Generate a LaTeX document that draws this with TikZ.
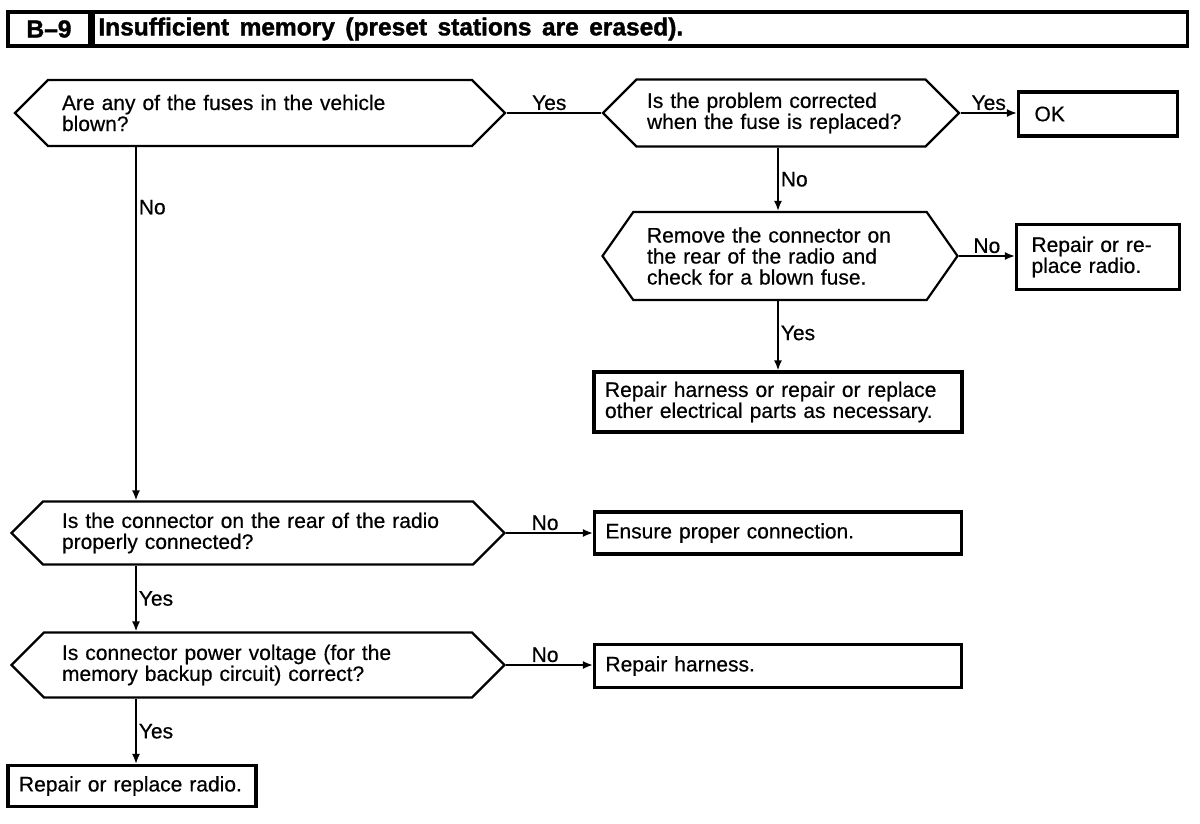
\documentclass[tikz,border=0pt]{standalone}
\usepackage{fontspec}
\setmainfont{Liberation Sans}[FakeBold=0.5]
\newfontfamily\headfont{Liberation Sans Bold}[FakeBold=1.5]
\usetikzlibrary{shapes.symbols,arrows.meta}
\tikzset{%
    >={Latex[length=10pt,width=8pt]}, % small filled heads
    every node/.style={font=\fontsize{21}{21}\selectfont},
    question/.style={signal, signal to=west and east, signal pointer angle=90,
        draw, line width=2.2pt, inner sep=0pt, align=left},
    answer/.style={draw, line width=3.2pt, inner ysep=0pt, align=left},
    headbox/.style={draw, line width=3.4pt, minimum height=34pt, inner sep=0pt,
        font=\fontsize{24.5}{24.5}\headfont},
    link/.style={line width=1.7pt},
    tag/.style={inner sep=2pt}
}

\begin{document}
\begin{tikzpicture}[x=1pt,y=-1pt] % chart B-9

    \useasboundingbox (0,0) rectangle (1200,824);

    % title bar
    \node[headbox, minimum width=82pt] (code) at (49,29) {B–9};
    \node[headbox, anchor=west, minimum width=1094pt, text width=1084pt,
        align=left] (title) at (code.east)
        {\spaceskip=10.5pt Insufficient memory (preset stations are erased).};

    \coordinate (colL) at (136,0); % left column of arrows
    \coordinate (colR) at (778,0); % right column of arrows

    % questions
    \node[question, minimum width=490pt, minimum height=66pt, text width=396pt]
        (fuses) at (260,113) {Are any of the fuses in the vehicle\\blown?};
    \node[question, minimum width=356pt, minimum height=67pt, text width=268pt]
        (fixed) at (781,113) {Is the problem corrected\\when the fuse is replaced?};
    \node[question, signal pointer angle=110, minimum width=355pt,
        minimum height=88pt, text width=266pt]
        (unplug) at (780,256) {Remove the connector on\\the rear of the radio and\\check for a blown fuse.};
    \node[question, minimum width=493pt, minimum height=63pt, text width=392pt]
        (plugged) at (258,533) {Is the connector on the rear of the radio\\properly connected?};
    \node[question, minimum width=493pt, minimum height=65pt, text width=392pt]
        (voltage) at (258,665) {Is connector power voltage (for the\\memory backup circuit) correct?};

    % results
    \node[answer, inner xsep=16pt, minimum width=159pt, minimum height=44pt,
        text width=127pt] (ok) at (1098,114) {OK};
    \node[answer, inner xsep=15pt, minimum width=163pt, minimum height=65pt,
        text width=133pt] (radio) at (1098,257) {Repair or re-\\place radio.};
    \node[answer, inner xsep=11pt, minimum width=368pt, minimum height=60pt,
        text width=346pt] (harness) at (778,402)
        {Repair harness or repair or replace\\other electrical parts as necessary.};
    \node[answer, inner xsep=11pt, minimum width=367pt, minimum height=42pt,
        text width=345pt] (ensure) at (778,533) {Ensure proper connection.};
    \node[answer, inner xsep=11pt, minimum width=367pt, minimum height=43pt,
        text width=345pt] (repair) at (778,666) {Repair harness.};
    \node[answer, inner xsep=11pt, minimum width=248pt, minimum height=41pt,
        text width=226pt] (replace) at (132,786) {Repair or replace radio.};

    % connectors
    \draw[link] (fuses.east) -- node[tag, above, pos=0.45] {Yes} (fixed.west);
    \draw[link,->] (fixed.east) -- node[tag, above] {Yes} (ok.west |- fixed.east);
    \draw[link,->] (fixed.south -| colR) -- node[tag, right] {No} (unplug.north -| colR);
    \draw[link,->] (unplug.east) -- node[tag, above] {No} (radio.west |- unplug.east);
    \draw[link,->] (unplug.south -| colR) -- node[tag, right, pos=0.46] {Yes} (harness.north -| colR);
    \draw[link,->] (fuses.south -| colL) -- node[tag, right, pos=0.17] {No} (plugged.north -| colL);
    \draw[link,->] (plugged.east) -- node[tag, above, pos=0.45] {No} (ensure.west);
    \draw[link,->] (plugged.south -| colL) -- node[tag, right] {Yes} (voltage.north -| colL);
    \draw[link,->] (voltage.east) -- node[tag, above, pos=0.45] {No} (repair.west |- voltage.east);
    \draw[link,->] (voltage.south -| colL) -- node[tag, right] {Yes} (replace.north -| colL);

\end{tikzpicture}
\end{document}
